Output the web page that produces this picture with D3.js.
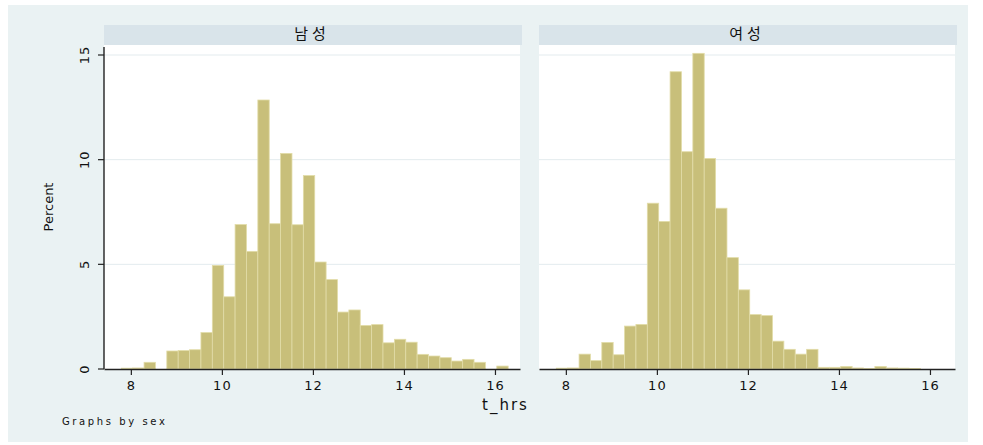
<!DOCTYPE html>
<html>
<head>
<meta charset="utf-8">
<script src="https://cdn.jsdelivr.net/npm/d3@7"></script>
<style>
    body { margin: 0; background: #ffffff; }
    text { font-family: "DejaVu Sans", sans-serif; fill: #111; }
</style>
</head>
<body>
<div id="chart"></div>
<script>
// lower edges of the histogram bins (width 0.25 h), shared by both panels
const binEdges = [
    7.79, 8.04, 8.29, 8.54, 8.79, 9.04, 9.29, 9.54, 9.79, 10.04,
    10.29, 10.54, 10.79, 11.04, 11.29, 11.54, 11.79, 12.04, 12.29, 12.54,
    12.79, 13.04, 13.29, 13.54, 13.79, 14.04, 14.29, 14.54, 14.79, 15.04,
    15.29, 15.54, 15.79, 16.04
];
const binWidth = 0.25;

// percent per bin
const malePercent = [
    0.04, 0.05, 0.32, 0, 0.86, 0.88, 0.92, 1.74, 4.95, 3.45,
    6.9, 5.62, 12.85, 6.94, 10.3, 6.89, 9.24, 5.11, 4.27, 2.72,
    2.82, 2.08, 2.12, 1.25, 1.42, 1.28, 0.7, 0.62, 0.54, 0.38,
    0.46, 0.32, 0, 0.14
];
const femalePercent = [
    0.04, 0.05, 0.71, 0.4, 1.27, 0.68, 2.05, 2.13, 7.92, 7.05,
    14.2, 10.38, 15.08, 10.06, 7.68, 5.32, 3.78, 2.6, 2.55, 1.33,
    0.94, 0.71, 0.94, 0.08, 0.08, 0.12, 0.05, 0.02, 0.12, 0.05,
    0.04, 0.02, 0, 0
];

const panelNames = ["남성", "여성"];
const xTicks = [8, 10, 12, 14, 16];
const yTicks = [0, 5, 10, 15];

const W = 983, H = 445;
const panelW = 416;
const panelLeft = [104, 539];
const plotTop = 45, plotBottom = 369;

const svg = d3.select("#chart")
    .append("svg")
    .attr("width", W)
    .attr("height", H);

// graph region background
svg.append("rect")
    .attr("x", 8).attr("y", 5)
    .attr("width", 960).attr("height", 437)
    .attr("fill", "#eaf2f3");

const x = d3.scaleLinear().domain([7.41, 16.55]).range([0, panelW]);
const y = d3.scaleLinear().domain([0, 15]).range([plotBottom, 55]);

const panels = [malePercent, femalePercent];

panels.forEach((values, i) => {
    const g = svg.append("g")
        .attr("transform", "translate(" + panelLeft[i] + ",0)");

    // plot area
    g.append("rect")
        .attr("x", 0).attr("y", plotTop)
        .attr("width", panelW).attr("height", plotBottom - plotTop)
        .attr("fill", "#ffffff");

    // header strip
    g.append("rect")
        .attr("x", 0).attr("y", 25)
        .attr("width", panelW + 2).attr("height", 20)
        .attr("fill", "#d9e4ea");
    g.append("text")
        .attr("x", panelW / 2).attr("y", 39)
        .attr("text-anchor", "middle")
        .style("font-family", "'Noto Sans CJK KR', sans-serif")
        .style("font-size", "15px")
        .style("letter-spacing", "4px")
        .text(panelNames[i]);

    // horizontal grid
    g.selectAll("line.grid")
        .data(yTicks.filter((t) => t > 0))
        .enter()
        .append("line")
        .attr("class", "grid")
        .attr("x1", 0).attr("x2", panelW)
        .attr("y1", (d) => y(d)).attr("y2", (d) => y(d))
        .style("stroke", "#e3ebee")
        .style("stroke-width", 1);

    // bars
    const bins = binEdges.map((e, k) => ({ x0: e, x1: e + binWidth, v: values[k] }));
    g.selectAll("rect.bar")
        .data(bins.filter((d) => d.v > 0))
        .enter()
        .append("rect")
        .attr("class", "bar")
        .attr("x", (d) => x(d.x0))
        .attr("width", (d) => x(d.x1) - x(d.x0))
        .attr("y", (d) => y(d.v))
        .attr("height", (d) => y(0) - y(d.v))
        .attr("fill", "#c8bf7a")
        .attr("stroke", "#e2dca8")
        .attr("stroke-width", 0.8);

    // x axis
    const xAxis = g.append("g")
        .attr("transform", "translate(0," + plotBottom + ")")
        .call(d3.axisBottom(x).tickValues(xTicks).tickSize(6).tickSizeOuter(0).tickPadding(6));
    xAxis.select(".domain").style("stroke", "#222").style("stroke-width", 1.4);
    xAxis.selectAll(".tick line").style("stroke", "#222").style("stroke-width", 1.2);
    xAxis.selectAll(".tick text")
        .style("font-family", "'DejaVu Sans', sans-serif")
        .style("font-size", "13px")
        .style("letter-spacing", "1px")
        .attr("fill", "#111");

    if (i === 0) {
        // y axis, left panel only
        g.append("line")
            .attr("x1", 0).attr("x2", 0)
            .attr("y1", 47).attr("y2", plotBottom)
            .style("stroke", "#222")
            .style("stroke-width", 1.4);
        g.selectAll("line.ytick")
            .data(yTicks)
            .enter()
            .append("line")
            .attr("x1", -6).attr("x2", 0)
            .attr("y1", (d) => y(d)).attr("y2", (d) => y(d))
            .style("stroke", "#222")
            .style("stroke-width", 1.2);
        g.selectAll("text.ytick")
            .data(yTicks)
            .enter()
            .append("text")
            .attr("transform", (d) => "translate(-15," + y(d) + ") rotate(-90)")
            .attr("text-anchor", "middle")
            .style("font-size", "13px")
            .style("letter-spacing", "1px")
            .text((d) => d);
    }
});

// axis titles and note
svg.append("text")
    .attr("transform", "translate(53,207) rotate(-90)")
    .attr("text-anchor", "middle")
    .style("font-size", "13px")
    .text("Percent");

svg.append("text")
    .attr("x", 482).attr("y", 410)
    .style("font-size", "15px")
    .style("letter-spacing", "2px")
    .text("t_hrs");

svg.append("text")
    .attr("x", 62).attr("y", 425)
    .style("font-size", "10px")
    .style("letter-spacing", "2.6px")
    .text("Graphs by sex");
</script>
</body>
</html>
